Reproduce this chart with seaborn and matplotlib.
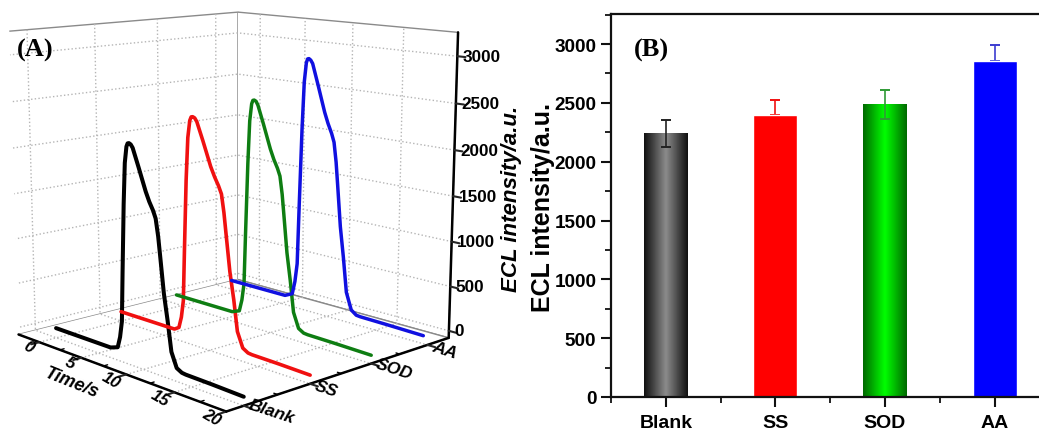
import numpy as np
import pandas as pd
import matplotlib
matplotlib.use("Agg")
import matplotlib.pyplot as plt
from matplotlib.colors import LinearSegmentedColormap
from matplotlib.ticker import MultipleLocator
import seaborn as sns

samples = ["Blank", "SS", "SOD", "AA"]
line_colors = ["black", "#f01010", "#0e7d12", "#1010e0"]
line_widths = [2.9, 2.6, 2.5, 2.5]

time_blank = [0, 3, 6.4, 7.2, 7.48, 7.71, 7.87, 8.1, 8.29, 8.49, 8.62, 8.76, 8.95, 9.15, 9.73, 10.46, 10.82,
              11.2, 11.46, 11.7, 11.88, 12.23, 12.59, 12.95, 13.48, 14.0, 14.4, 17, 20]
time_ss = [0, 3, 6.2, 6.7, 6.98, 7.21, 7.37, 7.6, 7.81, 8.03, 8.18, 8.34, 8.55, 8.77, 9.4, 10.2, 10.6,
           11.0, 11.3, 11.55, 11.75, 12.15, 12.55, 12.92, 13.47, 14.0, 14.4, 17, 20]
time_sod = [-0.6, 2.5, 5.85, 6.65, 6.93, 7.16, 7.32, 7.55, 7.74, 7.94, 8.07, 8.21, 8.4, 8.6, 9.18, 9.91, 10.27,
            10.65, 10.91, 11.15, 11.33, 11.68, 12.04, 12.4, 12.93, 13.45, 13.85, 16.5, 20]
time_aa = [-0.75, 2.0, 5.45, 6.25, 6.53, 6.76, 6.92, 7.15, 7.34, 7.54, 7.67, 7.81, 8.0, 8.2, 8.78, 9.51, 9.87,
           10.25, 10.51, 10.75, 10.93, 11.28, 11.64, 12.0, 12.53, 13.05, 13.45, 16, 19.6]
blank_curve = [30, 30, 30, 60, 180, 355, 890, 1600, 2030, 2200, 2235, 2240, 2230, 2200, 2020, 1785, 1690,
               1610, 1535, 1360, 1170, 790, 520, 210, 60, 30, 25, 20, 10]
ss_curve = [30, 30, 30, 65, 190, 380, 950, 1710, 2170, 2355, 2395, 2400, 2390, 2355, 2165, 1910, 1810,
            1725, 1645, 1455, 1250, 845, 555, 225, 65, 30, 25, 20, 10]
sod_curve = [30, 30, 30, 65, 200, 395, 985, 1770, 2245, 2435, 2475, 2480, 2470, 2430, 2235, 1975, 1870,
             1780, 1700, 1505, 1295, 875, 575, 230, 65, 30, 25, 20, 10]
aa_curve = [30, 30, 30, 75, 230, 450, 1130, 2035, 2580, 2800, 2845, 2850, 2835, 2800, 2570, 2270, 2150,
            2045, 1950, 1730, 1490, 1005, 660, 265, 75, 30, 25, 20, 10]
curves = [blank_curve, ss_curve, sod_curve, aa_curve]
curve_times = [time_blank, time_ss, time_sod, time_aa]

x_major = [0, 5, 10, 15, 20]
x_minor = [2.5, 7.5, 12.5, 17.5]
y_minor = [1.5, 2.5, 3.5]
z_major = [0, 500, 1000, 1500, 2000, 2500, 3000]
z_minor = [250, 750, 1250, 1750, 2250, 2750]

bar_means = [2240, 2400, 2485, 2855]
err_up = [115, 122, 125, 135]
err_down = [115, 0, 125, 0]
err_colors = ["#222222", "#f01010", "#2f9a35", "#3c3cd0"]
bar_colors = ["#808080", "#ff0000", "#00ff00", "#0000ff"]

sns.set_theme(style="ticks")
plt.rcParams["font.family"] = ["Liberation Sans", "DejaVu Sans"]
plt.rcParams["font.weight"] = "bold"
plt.rcParams["text.color"] = "black"
plt.rcParams["xtick.labelcolor"] = "black"
plt.rcParams["ytick.labelcolor"] = "black"
plt.rcParams["grid.color"] = "#b5b5b5"
plt.rcParams["grid.linestyle"] = ":"
plt.rcParams["grid.linewidth"] = 1.0

W, H = 1039, 431
fig = plt.figure(figsize=(W / 100, H / 100), dpi=100, facecolor="white")

# panel A, origin style 3d waterfall
ax = fig.add_axes([(227 - 215) / W, (H - 194 - 215) / H, 430 / W, 430 / H], projection="3d",
                  proj_type="persp", focal_length=0.64)
ax.view_init(elev=11.7, azim=-43.5)
xlo, xhi = -2.6, 20
ylo, yhi = 0.75, 4.4
zlo, zhi = -80, 3250
ax.set_xlim(xlo, xhi)
ax.set_ylim(ylo, yhi)
ax.set_zlim(zlo, zhi)
ax.set_box_aspect((1, 1, 1.0), zoom=1.215)
ax.patch.set_alpha(0)

for i, curve in enumerate(curves):
    ax.plot(curve_times[i], np.full(len(curve), i + 1), curve, color=line_colors[i], lw=line_widths[i])

ax.set_xticks(x_major)
ax.set_yticks([1, 2, 3, 4])
ax.set_yticklabels(samples)
ax.set_zticks(z_major)
ax.zaxis.set_ticks_position("upper")
ax.tick_params(axis="x", labelsize=12, pad=-6)
ax.tick_params(axis="y", labelsize=12.5, pad=-6)
ax.tick_params(axis="z", labelsize=12.3, pad=-6)
for t in ax.get_xticklabels():
    t.set_rotation(-30)
    t.set_fontstyle("italic")
    t.set_ha("right")
    t.set_va("center")
for t in ax.get_yticklabels():
    t.set_rotation(-18)
    t.set_fontstyle("italic")
    t.set_ha("left")
    t.set_va("center")
for t in ax.get_zticklabels():
    t.set_ha("left")
    t.set_va("center")

for axis in (ax.xaxis, ax.yaxis, ax.zaxis):
    axis.set_pane_color((1, 1, 1, 1))
    axis.pane.set_edgecolor("#8a8a8a")
    axis.pane.set_linewidth(1.0)
    axis.line.set_color("black")
    axis.line.set_linewidth(1.8)
    axis._axinfo["tick"]["linewidth"] = {True: 1.5, False: 1.0}
    axis._axinfo["tick"]["color"] = "black"
    axis._axinfo["tick"]["outward_factor"] = 0.0
    axis._axinfo["tick"]["inward_factor"] = 0.4

# minor ticks, mplot3d would put a grid line on real ones
for t in x_minor:
    ax.plot([t, t], [ylo, ylo + 0.06], [zlo, zlo], color="black", lw=1)
for t in y_minor:
    ax.plot([xhi, xhi - 0.35], [t, t], [zlo, zlo], color="black", lw=1)
for t in z_minor:
    ax.plot([xhi, xhi], [yhi, yhi - 0.06], [t, t], color="black", lw=1)

fig.text(511 / W, 1 - 199 / H, "ECL intensity/a.u.", rotation=90, ha="center", va="center",
         fontsize=16, fontstyle="italic", fontweight="bold")
fig.text(72 / W, 1 - 383 / H, "Time/s", rotation=-22, ha="center", va="center",
         fontsize=13, fontstyle="italic", fontweight="bold")
fig.text(17 / W, 1 - 50 / H, "(A)", fontsize=19, family="Liberation Serif", fontweight="bold",
         ha="left", va="center")

# panel B, right side runs past the canvas like the source image
axb = fig.add_axes([611 / W, (H - 398) / H, 438.4 / W, 383 / H])
df = pd.DataFrame({"sample": samples, "mean": bar_means})
sns.barplot(data=df, x="sample", y="mean", hue="sample", palette=bar_colors, width=0.4,
            legend=False, saturation=1, ax=axb)

gradients = {
    0: ["#111111", "#8c8c8c", "#111111"],
    2: ["#006b00", "#00ff00", "#006b00"],
}
for i, colors in gradients.items():
    bar = axb.patches[i]
    cmap = LinearSegmentedColormap.from_list("bar%d" % i, colors)
    axb.imshow(np.linspace(0, 1, 64).reshape(1, -1), cmap=cmap, aspect="auto", zorder=bar.get_zorder() + 0.1,
               extent=[bar.get_x(), bar.get_x() + bar.get_width(), 0, bar.get_height()])
axb.set_xlim(-0.5, 3.5)
axb.set_ylim(0, 3255)

for i in range(4):
    # red and blue lower halves are lost in the bar
    axb.errorbar(i, bar_means[i], yerr=[[err_down[i]], [err_up[i]]], color=err_colors[i], capsize=3.5, lw=1.2,
                 capthick=1.4, zorder=5 if err_down[i] else 0.5)

axb.spines["right"].set_visible(False)
for s in ("left", "top", "bottom"):
    axb.spines[s].set_linewidth(1.6)
    axb.spines[s].set_color("#111111")
axb.yaxis.set_major_locator(MultipleLocator(500))
axb.yaxis.set_minor_locator(MultipleLocator(250))
axb.xaxis.set_minor_locator(MultipleLocator(0.5))
axb.tick_params(axis="both", which="major", length=7, width=1.5, labelsize=13.6, color="#111111")
axb.tick_params(axis="x", which="major", labelsize=14, pad=5)
axb.tick_params(axis="both", which="minor", length=4, width=1.3, color="#111111")
axb.set_xlabel("")
axb.set_ylabel("")
fig.text(543 / W, 1 - 207 / H, "ECL intensity/a.u.", rotation=90, ha="center", va="center",
         fontsize=18, fontweight="bold")
fig.text(634 / W, 1 - 50 / H, "(B)", fontsize=19, family="Liberation Serif", fontweight="bold",
         ha="left", va="center")

fig.savefig("out.png", dpi=100)
